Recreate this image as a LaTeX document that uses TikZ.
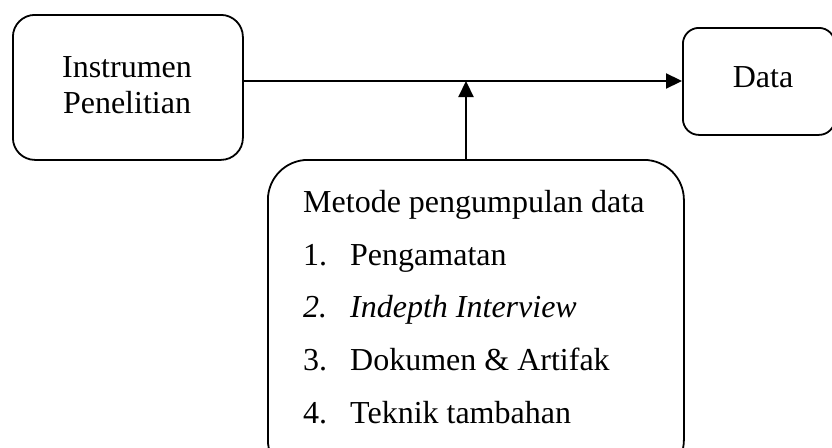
\documentclass[tikz,border=0pt]{standalone}
\usepackage{fontspec}
\setmainfont{Liberation Serif}
\usetikzlibrary{arrows.meta}
\begin{document}
\begin{tikzpicture}[x=1pt,y=-1pt,
  box/.style={draw, line width=1.8pt, inner sep=0pt},
  arr/.style={line width=2.2pt, -{Triangle[length=16pt,width=15pt]}},
  txt/.style={font=\fontsize{32}{36}\selectfont, inner sep=0pt},
  item/.style={txt, anchor=base west}]
\useasboundingbox (0,0) rectangle (832,447);
\clip (0,0) rectangle (832,447);
\node[box, rounded corners=22pt, minimum width=230pt, minimum height=145pt, anchor=north west] (ins) at (12,14) {};
\node[txt, align=center, anchor=base] (inst) at (127,113) {Instrumen\\Penelitian};
\node[box, rounded corners=16pt, minimum width=152pt, minimum height=107pt, anchor=north west] (data) at (682,27) {};
\node[txt, anchor=base] (datat) at (763,87) {Data};
\node[box, rounded corners=40pt, minimum width=416pt, minimum height=320pt, anchor=north west] (met) at (267,159) {};
\node[item] (m0) at (303,212) {Metode pengumpulan data};
\node[item] (n1) at (303,265) {1.};
\node[item] (t1) at (350,265) {Pengamatan};
\node[item] (n2) at (303,317) {\itshape 2.};
\node[item] (t2) at (350,317) {\itshape Indepth Interview};
\node[item] (n3) at (303,370) {3.};
\node[item] (t3) at (350,370) {Dokumen \& Artifak};
\node[item] (n4) at (303,423) {4.};
\node[item] (t4) at (350,423) {Teknik tambahan};
\coordinate (j) at (466,81);
\draw[arr] (ins.east |- j) -- (data.west |- j);
\draw[arr] (met.north -| j) -- (j);
\end{tikzpicture}
\end{document}
